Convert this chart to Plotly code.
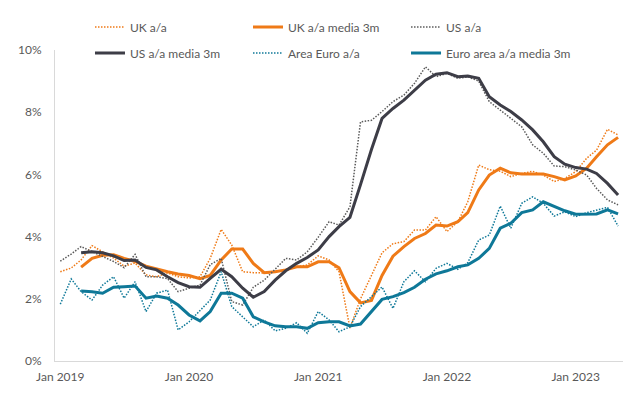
import pandas as pd
import plotly.graph_objects as go

months = pd.date_range("2019-01-01", "2023-05-01", freq="MS")

uk_aa = [2.87, 2.99, 3.25, 3.71, 3.51, 3.31, 3.05, 3.15, 2.77, 2.71, 2.83, 2.71,
         2.67, 2.71, 3.3, 4.23, 3.73, 2.87, 2.84, 2.83, 2.87, 2.93, 3.03, 3.09,
         3.38, 3.25, 2.87, 1.06, 2.0, 2.75, 3.48, 3.77, 3.84, 4.21, 4.21, 4.64,
         4.16, 4.48, 5.12, 6.3, 6.15, 6.1, 5.93, 6.03, 6.1, 5.98, 5.77, 5.87,
         6.09, 6.52, 6.78, 7.45, 7.27]
uk_3m = [None, None, 3.02, 3.3, 3.4, 3.42, 3.3, 3.2, 3.05, 2.95, 2.87, 2.8,
         2.75, 2.65, 2.75, 3.25, 3.6, 3.6, 3.14, 2.84, 2.87, 2.93, 3.03, 3.03,
         3.19, 3.19, 3.0, 2.23, 1.87, 1.95, 2.75, 3.37, 3.68, 3.94, 4.1, 4.37,
         4.34, 4.48, 4.77, 5.5, 5.98, 6.2, 6.05, 6.01, 6.01, 6.01, 5.93, 5.82,
         5.95, 6.2, 6.57, 6.95, 7.19]
us_aa = [3.21, 3.44, 3.68, 3.51, 3.35, 3.2, 3.0, 3.43, 2.71, 2.71, 2.65, 2.23,
         2.34, 2.44, 3.1, 3.3, 1.91, 1.8, 2.37, 2.6, 2.95, 3.3, 3.25, 3.51,
         3.98, 4.48, 4.37, 4.96, 7.69, 7.74, 8.02, 8.34, 8.55, 8.93, 9.46, 9.14,
         9.25, 9.09, 9.14, 9.0, 8.34, 8.07, 7.8, 7.53, 6.95, 6.68, 6.27, 6.25,
         6.14, 5.98, 5.55, 5.18, 5.02]
us_3m = [None, None, 3.48, 3.51, 3.48, 3.38, 3.23, 3.25, 3.01, 2.93, 2.71, 2.52,
         2.39, 2.37, 2.66, 2.95, 2.71, 2.34, 2.05, 2.23, 2.6, 2.9, 3.14, 3.33,
         3.57, 4.0, 4.32, 4.62, 5.67, 6.8, 7.8, 8.12, 8.39, 8.71, 9.03, 9.22,
         9.27, 9.14, 9.16, 9.09, 8.5, 8.23, 8.02, 7.75, 7.43, 7.05, 6.57, 6.33,
         6.22, 6.17, 6.03, 5.71, 5.34]
ea_aa = [1.83, 2.64, 2.23, 1.96, 2.44, 2.71, 2.02, 2.55, 1.59, 2.18, 2.28, 1.0,
         1.26, 1.64, 1.96, 2.87, 1.75, 1.42, 1.1, 1.32, 0.97, 1.05, 1.23, 0.89,
         1.59, 1.32, 0.94, 1.1, 1.75, 2.07, 2.38, 1.69, 2.55, 2.9, 2.55, 2.98,
         3.14, 2.95, 3.16, 3.89, 4.05, 4.98, 4.27, 5.07, 5.28, 5.07, 4.66, 4.8,
         4.64, 4.77, 4.86, 4.94, 4.34]
ea_3m = [None, None, 2.25, 2.23, 2.18, 2.37, 2.39, 2.41, 2.02, 2.09, 2.02, 1.8,
         1.48, 1.29, 1.59, 2.18, 2.18, 2.02, 1.42, 1.26, 1.13, 1.1, 1.1, 1.05,
         1.23, 1.26, 1.26, 1.13, 1.19, 1.59, 1.98, 2.07, 2.2, 2.37, 2.63, 2.8,
         2.9, 3.03, 3.09, 3.3, 3.62, 4.27, 4.43, 4.77, 4.86, 5.12, 4.98, 4.83,
         4.72, 4.73, 4.73, 4.86, 4.73]

tick_dates = ["2019-01-01", "2020-01-01", "2021-01-01", "2022-01-01", "2023-01-01"]
tick_labels = ["Jan 2019", "Jan 2020", "Jan 2021", "Jan 2022", "Jan 2023"]
y_ticks = [0, 2, 4, 6, 8, 10]
y_labels = ["0%", "2%", "4%", "6%", "8%", "10%"]

ORANGE = "#EF7A17"
DARK = "#3D3D47"
GREY = "#5A5A5A"
TEAL = "#0E7898"
DOT = "1.5px,1.5px"

series = [
    ("UK a/a", uk_aa, ORANGE, 1.5, DOT),
    ("UK a/a media 3m", uk_3m, ORANGE, 3, "solid"),
    ("US a/a", us_aa, GREY, 1.5, DOT),
    ("US a/a media 3m", us_3m, DARK, 3, "solid"),
    ("Area Euro a/a", ea_aa, TEAL, 1.5, DOT),
    ("Euro area a/a media 3m", ea_3m, TEAL, 3, "solid"),
]

FONT = "Lato"
col_x = [0.0616, 0.3398, 0.618]
row_y = [1.074, 0.99]

fig = go.Figure()
legends = {}
for k, (name, vals, color, w, dash) in enumerate(series):
    leg = "legend" if k == 0 else f"legend{k + 1}"
    fig.add_trace(go.Scatter(
        x=months, y=[None if v is None else v / 100 for v in vals],
        mode="lines", name=name, legend=leg,
        line=dict(color=color, width=w, dash=dash),
    ))
    legends[leg] = dict(
        orientation="h", xanchor="left", yanchor="middle",
        x=col_x[k % 3], y=row_y[k // 3],
        font=dict(family=FONT, size=12, color="#595959"),
        bgcolor="rgba(0,0,0,0)", itemwidth=30,
    )

fig.update_layout(
    width=632, height=387,
    margin=dict(l=47, r=17, t=42, b=34, autoexpand=False),
    paper_bgcolor="white", plot_bgcolor="white",
    font=dict(family=FONT, size=12, color="#595959"),
    showlegend=True,
    **legends,
)
fig.update_xaxes(
    range=["2018-12-17", "2023-05-15"],
    tickvals=tick_dates, ticktext=tick_labels,
    showgrid=False, zeroline=False,
    showline=True, linecolor="#D9D9D9", linewidth=1,
    ticks="", ticklabelstandoff=5,
    tickfont=dict(family=FONT, size=12, color="#595959"),
)
fig.update_yaxes(
    range=[0, 0.1],
    tickvals=[v / 100 for v in y_ticks], ticktext=y_labels,
    showgrid=False, zeroline=False,
    showline=True, linecolor="#D9D9D9", linewidth=1,
    ticks="", ticklabelstandoff=10,
    tickfont=dict(family=FONT, size=12, color="#595959"),
)

fig.write_html("out.html")
